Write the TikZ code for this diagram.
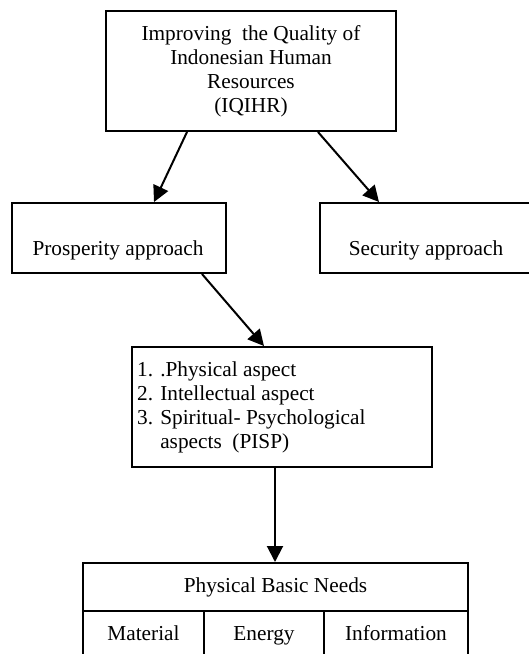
\documentclass[tikz,border=0pt]{standalone}
\usepackage{fontspec}
\setmainfont{Liberation Serif}
\usetikzlibrary{arrows.meta}
\begin{document}
\begin{tikzpicture}[x=1pt,y=-1pt,
  every node/.style={font=\fontsize{21.3}{24}\selectfont, inner sep=0pt},
  boxnode/.style={draw, line width=2pt, rectangle},
  cellnode/.style={boxnode, minimum height=48, text height=15pt, text depth=5pt},
  conn/.style={line width=2pt, -{Triangle[length=16pt,width=16pt]}}]
\useasboundingbox (0,0) rectangle (529,654);
\clip (0,0) rectangle (529,654);
% top box
\node[boxnode, minimum width=290, minimum height=120, align=center] (top) at (251,71)
  {Improving\ \ the Quality of\\Indonesian Human\\Resources\\(IQIHR)};
% prosperity
\node[boxnode, minimum width=214, minimum height=70] (pros) at (119,238) {};
\node (prostext) at (118,250) {Prosperity approach};
% security
\node[boxnode, minimum width=213, minimum height=70] (sec) at (426.5,238) {};
\node (sectext) at (426,250) {Security approach};
% middle box
\node[boxnode, minimum width=300, minimum height=120] (mid) at (282,407) {};
\node[anchor=west, align=left] (midtext) at (137,407)
  {1. .Physical aspect\\2. Intellectual aspect\\3. Spiritual- Psychological\\\hphantom{3. }aspects\ \ (PISP)};
% table
\node[cellnode, minimum width=385] (hdr) at (275.5,587) {Physical Basic Needs};
\node[cellnode, minimum width=121] (mat) at (143.5,635) {Material};
\node[cellnode, minimum width=120] (ene) at (264,635) {Energy};
\node[cellnode, minimum width=144] (inf) at (396,635) {Information};
% connectors
\draw[conn] ([xshift=82pt]top.south west) -- ([xshift=143pt]pros.north west);
\draw[conn] ([xshift=213pt]top.south west) -- ([xshift=60pt]sec.north west);
\draw[conn] ([xshift=191pt]pros.south west) -- ([xshift=133pt]mid.north west);
\draw[conn] ([xshift=144pt]mid.south west) -- ([xshift=193pt]hdr.north west);
\end{tikzpicture}
\end{document}
